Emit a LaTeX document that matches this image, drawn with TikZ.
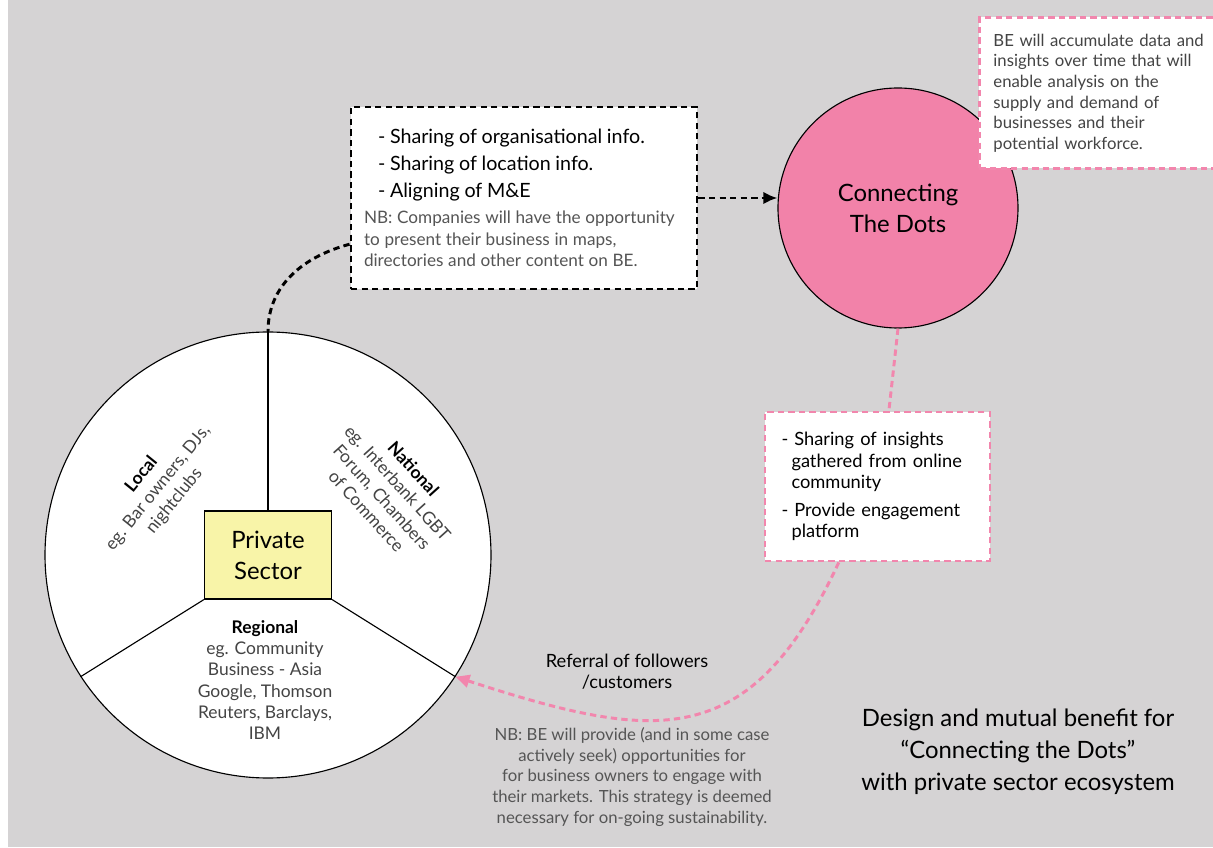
\documentclass[tikz,border=0pt]{standalone}
\usepackage{fontspec}
\setmainfont{Lato}
\usetikzlibrary{positioning,calc,arrows.meta,shapes}
\definecolor{bggray}{HTML}{D5D3D4}
\definecolor{dotpink}{HTML}{F282A9}
\definecolor{dashpink}{HTML}{F286AD}
\definecolor{psyellow}{HTML}{F8F4A8}
\definecolor{notegray}{HTML}{555555}
\definecolor{labelgray}{HTML}{444444}
\newcommand\shareFont{\fontsize{14}{19.2}\selectfont}
\newcommand\noteFont{\fontsize{12.2}{15.3}\selectfont}
\newcommand\dotsFont{\fontsize{17}{22}\selectfont}
\newcommand\smallFont{\fontsize{11.9}{14.7}\selectfont}
\newcommand\boxFont{\fontsize{13}{15}\selectfont}
\newcommand\pieFont{\fontsize{12.4}{15}\selectfont}
\newcommand\titleFont{\fontsize{17}{22.8}\selectfont}
\tikzset{
    thinline/.style={draw=black, line width=0.8pt},
    blackdash/.style={draw=black, line width=2.1pt, dash pattern=on 4.5pt off 3pt},
    pinkdash/.style={draw=dashpink, line width=2.1pt, dash pattern=on 4.5pt off 3pt},
    infobox/.style={rectangle, blackdash, fill=white, align=left},
    pinkbox/.style={rectangle, pinkdash, fill=white, align=left},
    pielabel/.style={align=center, text=labelgray, font=\pieFont}
}
\begin{document}
\begin{tikzpicture}[x=1cm, y=1cm]
    \useasboundingbox (0,0) rectangle (30.325,21.175);
    \fill[bggray] (0.2,0) rectangle (30.325,21.175);

    % private sector pie
    \node[circle, thinline, fill=white, minimum size=11.15cm] (pie) at (6.70,7.30) {};
    \node[rectangle, thinline, fill=psyellow, minimum width=3.175cm, minimum height=2.2cm, align=center, font=\dotsFont] (psec) at (pie.center) {Private\\Sector};
    \draw[thinline] (pie.north) -- (psec.north);
    \draw[thinline] (psec.south west) -- (pie.213);
    \draw[thinline] (psec.south east) -- (pie.327);

    \node[pielabel, rotate=51] (local) at (3.95,8.975) {\textcolor{black}{\textbf{Local}}\\eg. Bar owners, DJs,\\nightclubs};
    \node[pielabel, rotate=-48] (national) at (9.75,8.925) {\textcolor{black}{\textbf{National}}\\eg. Interbank LGBT\\Forum, Chambers\\of Commerce};
    \node[pielabel] (regional) at (6.625,4.175) {\textcolor{black}{\textbf{Regional}}\\eg. Community\\Business - Asia\\Google, Thomson\\Reuters, Barclays,\\IBM};

    % what companies share
    \node[infobox, minimum width=8.65cm, minimum height=4.55cm, text width=8.0cm] (shareinfo) at (13.1,16.225) {%
        {\shareFont\leftskip=0.35cm - Sharing of organisational info.\par
        - Sharing of location info.\par
        - Aligning of M\&E\par}
        \vspace{3pt}
        {\noteFont\color{notegray}NB: Companies will have the opportunity\\
        to present their business in maps,\\
        directories and other content on BE.\par}};

    \node[circle, thinline, fill=dotpink, minimum size=6cm, align=center, font=\dotsFont] (dots) at (22.45,15.975) {Connecting\\The Dots};

    \node[pinkbox, anchor=north west, minimum height=3.775cm, text width=5.6cm, inner xsep=0.35cm, font=\smallFont, text=labelgray] (bedata) at (24.45,20.775) {BE will accumulate data and\\insights over time that will\\enable analysis on the\\supply and demand of\\businesses and their\\potential workforce.};

    \node[pinkbox, minimum width=5.625cm, minimum height=3.725cm, text width=4.8cm, font=\boxFont] (insights) at (21.9375,9.0125) {%
        - Sharing of insights\\\hspace*{0.25cm}gathered from online\\\hspace*{0.25cm}community\par
        \vspace{5pt}
        - Provide engagement\\\hspace*{0.25cm}platform\par};

    \draw[blackdash, -{Latex[length=10pt,width=9pt]}] (shareinfo.east) -- (shareinfo.east -| dots.west);
    \draw[blackdash] ($(shareinfo.west)!0.5!(shareinfo.south west)$) to[out=195,in=90] (pie.north);
    \draw[pinkdash] (dots.south) -- ($(insights.north west)!0.55!(insights.north east)$);
    \draw[pinkdash, -{Triangle[length=10pt,width=9pt]}] ($(insights.south west)!0.33!(insights.south east)$) to[out=245,in=-18,looseness=1.35] (pie.327);

    \node[align=center, font=\boxFont] (referral) at (15.675,4.375) {Referral of followers\\/customers};
    \node[align=center, font=\smallFont, text=notegray] (bnote) at (15.8,1.75) {NB: BE will provide (and in some case\\actively seek) opportunities for\\for business owners to engage with\\their markets. This strategy is deemed\\necessary for on-going sustainability.};

    \node[align=center, font=\titleFont] (title) at (25.45,2.375) {Design and mutual benefit for\\“Connecting the Dots”\\with private sector ecosystem};
\end{tikzpicture}
\end{document}
